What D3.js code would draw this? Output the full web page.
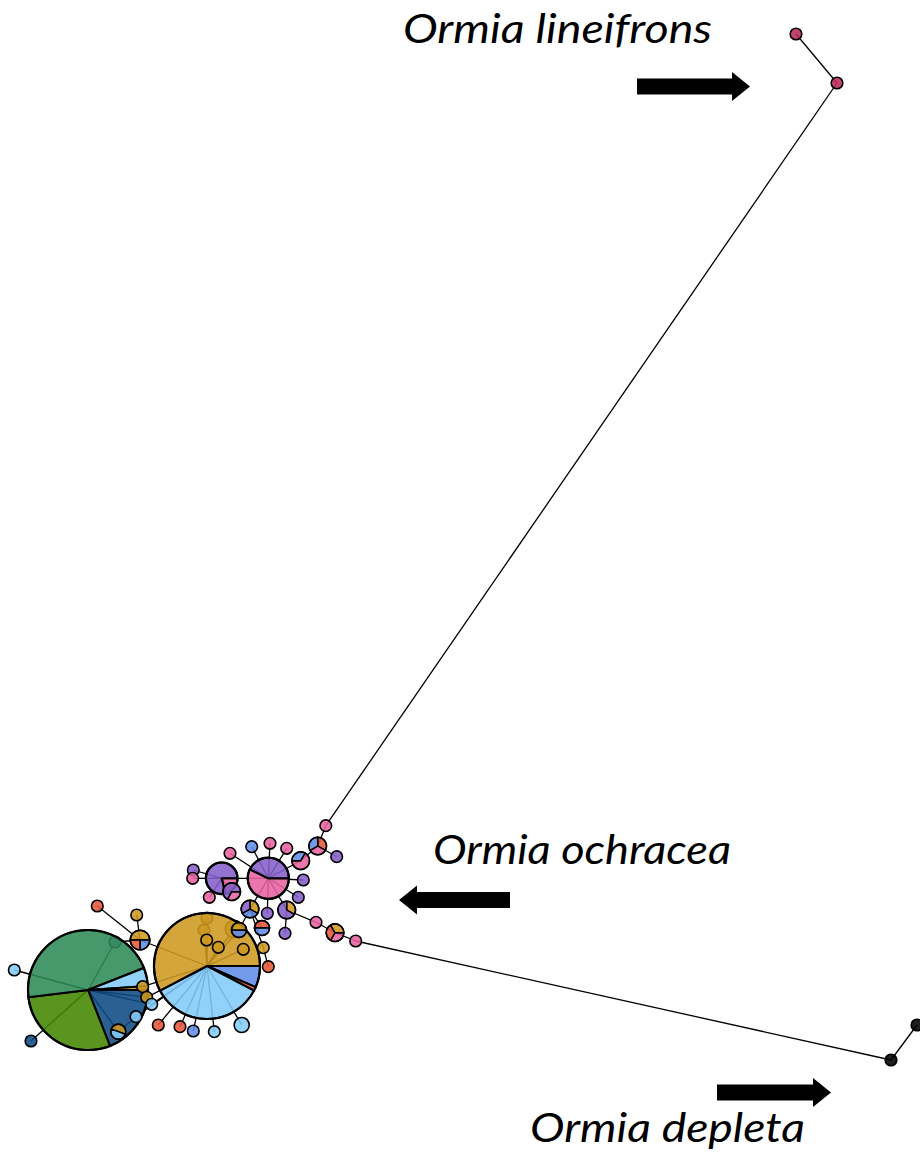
<!DOCTYPE html>
<html>
<head>
<meta charset="utf-8">
<script src="https://cdn.jsdelivr.net/npm/d3@7"></script>
<style>
  html, body { margin: 0; padding: 0; background: #fff; }
  svg { display: block; }
</style>
</head>
<body>
<svg id="net" width="920" height="1164"></svg>
<script>
// Haplotype populations and their colours
const popNames  = ["gold", "lightBlue", "blue", "red", "teal", "olive", "navy", "purple", "pink", "lineifrons", "depleta"];
const popColors = ["#CD981F", "#83CCF9", "#608DE7", "#E5563A", "#2D8A56", "#438800", "#0D4A83", "#855EC9", "#E763A2", "#BA2B5D", "#000000"];

// Haplotype ids in drawing order (first ones sit underneath the large pies)
const nodeIds = [
  "h1","h2","h3","h4",
  "green","goldPie",
  "gIn1","gIn2","gIn3","J",
  "l1","l2","l3","l4","Q","gs1","gs2",
  "I","i1","i2",
  "b1","b2","b3","b4","b5",
  "F","K","L","M",
  "C","G","H","c1","c2","c3","c4","c5","c6","c7",
  "g1","g2","g3",
  "D","d1","ch1","E","ch2",
  "P1","A","a1","B",
  "Ll1","Ll2","Dp1","Dp2"
];

// Network layout coordinates (layout units)
const nodeX = [
  11.5, 20.7, 20.4, 23.4,
  8.8, 20.7,
  20.67, 21.83, 24.33, 23.9,
  14.27, 14.67, 15.17, 13.6, 11.83, 1.43, 3.1,
  14.0, 9.73, 13.67,
  15.83, 18.0, 19.33, 21.43, 24.17,
  25.0, 26.2, 26.33, 26.83,
  26.83, 22.17, 23.17, 27.0, 25.17, 23.0, 28.67, 30.33, 29.83, 26.73,
  19.33, 19.27, 20.93,
  28.67, 28.5, 31.6, 33.5, 35.57,
  32.58, 31.77, 33.67, 30.07,
  79.6, 83.7, 89.1, 91.7
];
const nodeY = [
  94.2, 91.8, 93.0, 92.9,
  99.0, 96.6,
  94.0, 94.73, 94.93, 93.0,
  98.67, 99.73, 100.43, 101.67, 103.17, 97.0, 104.1,
  94.0, 90.6, 91.5,
  102.5, 102.67, 103.1, 103.17, 102.5,
  90.9, 92.8, 94.77, 96.67,
  87.83, 87.83, 89.17, 84.33, 84.67, 85.33, 84.83, 88.0, 89.73, 91.33,
  87.0, 87.83, 89.73,
  91.0, 93.33, 92.23, 93.27, 94.1,
  82.57, 84.6, 85.67, 86.07,
  3.4, 8.3, 106.0, 102.5
];

// Sample counts per population for every haplotype
const nodeCounts = [
  [["blue",1]], [["gold",1]], [["gold",1]], [["gold",3]],
  [["navy",89],["olive",136],["teal",215],["lightBlue",23],["gold",5]],
  [["blue",22],["red",4],["lightBlue",117],["gold",195]],
  [["gold",1]], [["gold",1]], [["gold",1]], [["blue",1],["gold",1]],
  [["gold",1]], [["gold",1]], [["lightBlue",1]], [["lightBlue",1]], [["gold",1],["lightBlue",1]], [["lightBlue",1]], [["navy",1]],
  [["gold",2],["blue",1],["red",1]], [["red",1]], [["gold",1]],
  [["red",1]], [["red",1]], [["blue",1]], [["lightBlue",1]], [["lightBlue",2]],
  [["gold",1],["blue",1],["purple",1]], [["red",1],["blue",1]], [["gold",1]], [["red",1]],
  [["pink",16],["purple",12]], [["pink",3],["purple",11]], [["pink",1],["purple",2]],
  [["pink",1]], [["blue",1]], [["pink",1]], [["pink",1]], [["purple",1]], [["purple",1]], [["purple",1]],
  [["purple",1]], [["pink",1]], [["pink",1]],
  [["gold",1],["purple",2]], [["purple",1]], [["pink",1]], [["pink",1],["red",1],["gold",1]], [["pink",1]],
  [["pink",1]], [["red",1],["pink",1],["blue",1]], [["purple",1]], [["pink",2],["blue",1]],
  [["lineifrons",1]], [["lineifrons",1]], [["depleta",1]], [["depleta",1]]
];

// Rotation of the first slice (degrees, clockwise from 12 o'clock)
const pieStart = [
  0,0,0,0,
  90,90,
  0,0,0,90,
  0,0,0,0,-70,0,0,
  -90,0,0,
  0,0,0,0,0,
  0,-90,0,0,
  90,90,90,0,0,0,0,0,0,0,
  0,0,0,
  0,0,0,90,0,
  0,0,0,30,
  0,0,0,0
];

// Mutational connections between haplotypes
const links = [
  ["Ll1","Ll2"], ["Ll2","P1"], ["P1","A"], ["A","a1"], ["A","B"], ["B","C"],
  ["C","c1"], ["C","c2"], ["C","c3"], ["C","c4"], ["C","c5"], ["C","c6"], ["C","c7"],
  ["C","G"], ["C","D"], ["C","F"],
  ["G","H"], ["G","g1"], ["G","g2"], ["G","g3"],
  ["D","d1"], ["D","ch1"], ["ch1","E"], ["E","ch2"], ["ch2","Dp1"], ["Dp1","Dp2"],
  ["F","J"], ["F","K"], ["F","L"], ["L","M"],
  ["J","goldPie"], ["h4","goldPie"], ["h2","goldPie"], ["h3","goldPie"],
  ["gIn1","goldPie"], ["gIn2","goldPie"], ["gIn3","goldPie"],
  ["goldPie","b1"], ["goldPie","b2"], ["goldPie","b3"], ["goldPie","b4"], ["goldPie","b5"],
  ["goldPie","I"], ["I","i1"], ["I","i2"], ["I","h1"], ["h1","green"],
  ["goldPie","l1"], ["l1","green"], ["goldPie","l2"], ["l2","green"],
  ["goldPie","l3"], ["l3","green"], ["goldPie","l4"], ["l4","Q"], ["Q","green"],
  ["green","gs1"], ["green","gs2"]
];

const W = 920, H = 1164;
const svg = d3.select("#net");
svg.append("rect").attr("width", W).attr("height", H).attr("fill", "#fff");

const x = d3.scaleLinear().domain([0, 92]).range([0, W]);
const y = d3.scaleLinear().domain([0, 116.4]).range([0, H]);
const color = d3.scaleOrdinal().domain(popNames).range(popColors);
// node radius grows with the number of samples
const radius = d3.scalePow().exponent(0.38).domain([0, 1]).range([0, 5.8]);

const nodes = nodeIds.map((id, i) => ({
  id, x: x(nodeX[i]), y: y(nodeY[i]),
  counts: nodeCounts[i],
  total: d3.sum(nodeCounts[i], d => d[1]),
  start: pieStart[i] * Math.PI / 180
}));
const byId = new Map(nodes.map(n => [n.id, n]));

// edges
svg.append("g")
  .attr("stroke", "#000")
  .attr("stroke-width", 1.3)
  .selectAll("line")
  .data(links)
  .join("line")
  .attr("x1", d => byId.get(d[0]).x)
  .attr("y1", d => byId.get(d[0]).y)
  .attr("x2", d => byId.get(d[1]).x)
  .attr("y2", d => byId.get(d[1]).y);

// haplotype pies
const arc = d3.arc().innerRadius(0);
const gNodes = svg.append("g");
nodes.forEach(n => {
  const r = radius(n.total);
  const big = r > 14;
  const g = gNodes.append("g").attr("transform", `translate(${n.x},${n.y})`);
  if (n.counts.length === 1) {
    g.append("circle")
      .attr("r", r)
      .attr("fill", color(n.counts[0][0]))
      .attr("fill-opacity", 0.88)
      .attr("stroke", "#000")
      .attr("stroke-width", 1.6);
  } else {
    const pie = d3.pie().sort(null).value(d => d[1])
      .startAngle(n.start).endAngle(n.start + 2 * Math.PI);
    g.selectAll("path")
      .data(pie(n.counts))
      .join("path")
      .attr("d", d => arc.outerRadius(r)(d))
      .attr("fill", d => color(d.data[0]))
      .attr("fill-opacity", 0.88)
      .attr("stroke", "#000")
      .attr("stroke-width", big ? 2 : 1.4)
      .attr("stroke-linejoin", "round");
    g.append("circle")
      .attr("r", r)
      .attr("fill", "none")
      .attr("stroke", "#000")
      .attr("stroke-width", big ? 2.2 : 1.6);
  }
});

// species annotations
const ann = svg.append("g");
const labelFont = "Lato, 'Open Sans', 'DejaVu Sans', sans-serif";
[
  { text: "Ormia lineifrons", x: 403, y: 43, w: 309 },
  { text: "Ormia ochracea",   x: 433, y: 864, w: 298 },
  { text: "Ormia depleta",    x: 530, y: 1142, w: 275 }
].forEach(t => {
  ann.append("text")
    .attr("x", t.x).attr("y", t.y)
    .attr("font-family", labelFont)
    .attr("font-style", "italic")
    .attr("font-size", 41)
    .attr("fill", "#000")
    .attr("textLength", t.w)
    .attr("lengthAdjust", "spacingAndGlyphs")
    .text(t.text);
});

function arrow(x0, x1, cy, dir) {
  // shaft from x0 to x1, head beyond x1 in direction dir
  const shaft = 8, head = 14.5, len = 18;
  const p = d3.path();
  p.moveTo(x0, cy - shaft);
  p.lineTo(x1, cy - shaft);
  p.lineTo(x1, cy - head);
  p.lineTo(x1 + dir * len, cy);
  p.lineTo(x1, cy + head);
  p.lineTo(x1, cy + shaft);
  p.lineTo(x0, cy + shaft);
  p.closePath();
  ann.append("path").attr("d", p.toString()).attr("fill", "#000");
}
arrow(637, 732, 86.5, 1);
arrow(510, 417, 900, -1);
arrow(717, 813, 1092.5, 1);
</script>
</body>
</html>
